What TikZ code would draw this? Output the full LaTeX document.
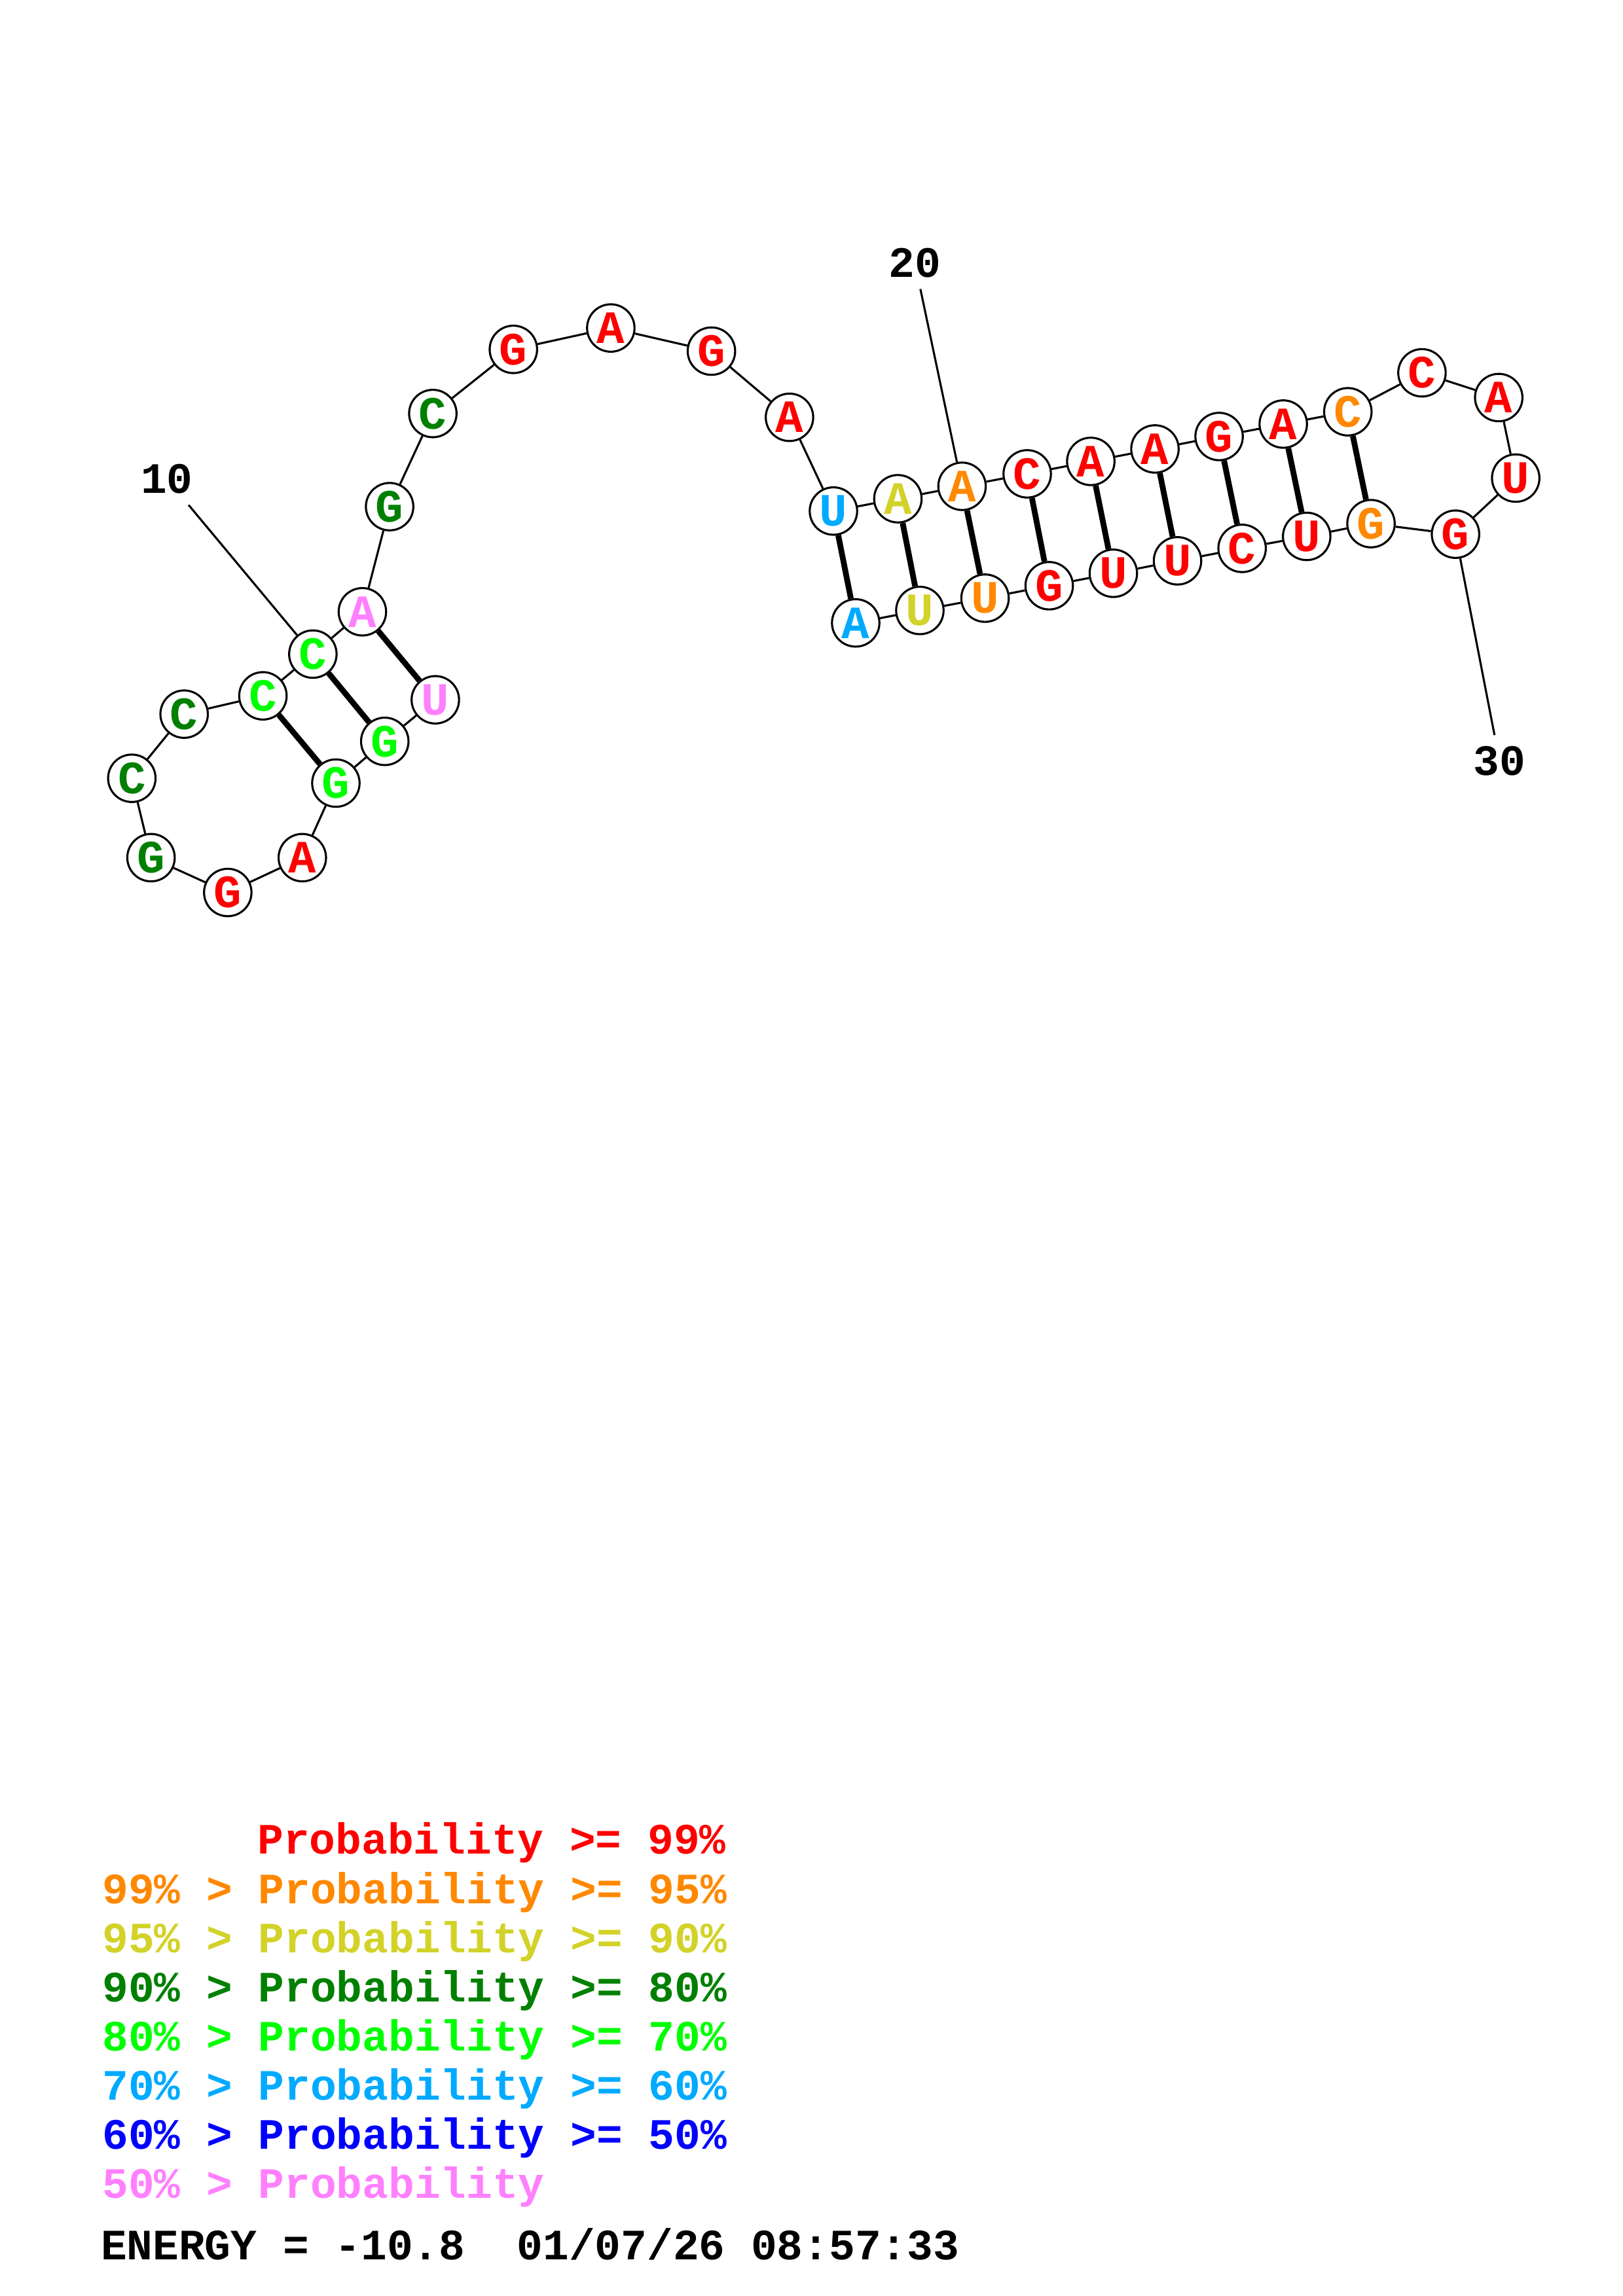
\documentclass[tikz,border=0pt]{standalone}
\usepackage{fontspec}
\setmonofont{Liberation Mono}
\definecolor{p99}{RGB}{255,0,0}
\definecolor{p95}{RGB}{255,136,0}
\definecolor{p90}{RGB}{210,210,40}
\definecolor{p80}{RGB}{0,128,0}
\definecolor{p70}{RGB}{0,255,0}
\definecolor{p60}{RGB}{0,170,255}
\definecolor{p50}{RGB}{0,0,255}
\definecolor{plow}{RGB}{255,128,255}
\newcommand{\rnafont}{\ttfamily\bfseries\fontsize{17}{17}\selectfont}
\newcommand{\keyfont}{\ttfamily\bfseries\fontsize{15.9}{15.9}\selectfont}
\begin{document}
\begin{tikzpicture}[x=0.53726pt,y=-0.53726pt,
    base/.style={circle,draw,fill=white,line width=0.75pt,minimum size=17.4pt,
      inner sep=0pt,font=\rnafont},
    numlabel/.style={inner sep=4pt,font=\keyfont},
    legend/.style={anchor=base west,inner sep=0pt,font=\keyfont}]
  \useasboundingbox (0,0) rectangle (1108,1568);
  \draw
    (297.2,477.9) node[base,text=plow] (1){U}
    (262.7,506.3) node[base,text=p70] (2){G}
    (229.3,534.8) node[base,text=p70] (3){G}
    (206.4,585.7) node[base,text=p99] (4){A}
    (155.5,609.5) node[base,text=p99] (5){G}
    (103.1,585.7) node[base,text=p80] (6){G}
    (90.0,531.5) node[base,text=p80] (7){C}
    (125.7,487.7) node[base,text=p80] (8){C}
    (179.5,475.2) node[base,text=p70] (9){C}
    (213.6,446.7) node[base,text=p70] (10){C}
    (247.4,417.8) node[base,text=plow] (11){A}
    (266.0,346.0) node[base,text=p80] (12){G}
    (295.5,282.4) node[base,text=p80] (13){C}
    (350.5,238.6) node[base,text=p99] (14){G}
    (417.0,224.0) node[base,text=p99] (15){A}
    (485.7,239.8) node[base,text=p99] (16){G}
    (539.0,285.0) node[base,text=p99] (17){A}
    (569.0,349.0) node[base,text=p60] (18){U}
    (613.0,340.6) node[base,text=p90] (19){A}
    (656.8,332.1) node[base,text=p95] (20){A}
    (701.3,323.6) node[base,text=p99] (21){C}
    (744.7,315.1) node[base,text=p99] (22){A}
    (788.5,306.6) node[base,text=p99] (23){A}
    (832.3,298.1) node[base,text=p99] (24){G}
    (876.1,289.6) node[base,text=p99] (25){A}
    (920.2,281.2) node[base,text=p95] (26){C}
    (970.8,254.6) node[base,text=p99] (27){C}
    (1023.2,271.5) node[base,text=p99] (28){A}
    (1034.8,326.5) node[base,text=p99] (29){U}
    (993.7,364.8) node[base,text=p99] (30){G}
    (936.0,357.6) node[base,text=p95] (31){G}
    (892.1,366.3) node[base,text=p99] (32){U}
    (848.0,374.5) node[base,text=p99] (33){C}
    (803.9,383.0) node[base,text=p99] (34){U}
    (760.1,391.5) node[base,text=p99] (35){U}
    (716.3,400.0) node[base,text=p99] (36){G}
    (672.5,408.5) node[base,text=p95] (37){U}
    (628.0,416.9) node[base,text=p90] (38){U}
    (584.2,425.4) node[base,text=p60] (39){A};
  \begin{scope}[line width=0.75pt]
    \draw (1) to (2);
    \draw (2) to (3);
    \draw (3) to (4);
    \draw (4) to (5);
    \draw (5) to (6);
    \draw (6) to (7);
    \draw (7) to (8);
    \draw (8) to (9);
    \draw (9) to (10);
    \draw (10) to (11);
    \draw (11) to (12);
    \draw (12) to (13);
    \draw (13) to (14);
    \draw (14) to (15);
    \draw (15) to (16);
    \draw (16) to (17);
    \draw (17) to (18);
    \draw (18) to (19);
    \draw (19) to (20);
    \draw (20) to (21);
    \draw (21) to (22);
    \draw (22) to (23);
    \draw (23) to (24);
    \draw (24) to (25);
    \draw (25) to (26);
    \draw (26) to (27);
    \draw (27) to (28);
    \draw (28) to (29);
    \draw (29) to (30);
    \draw (30) to (31);
    \draw (31) to (32);
    \draw (32) to (33);
    \draw (33) to (34);
    \draw (34) to (35);
    \draw (35) to (36);
    \draw (36) to (37);
    \draw (37) to (38);
    \draw (38) to (39);
  \end{scope}
  \begin{scope}[line width=2.1pt]
    \draw (1) to (11);
    \draw (2) to (10);
    \draw (3) to (9);
    \draw (18) to (39);
    \draw (19) to (38);
    \draw (20) to (37);
    \draw (21) to (36);
    \draw (22) to (35);
    \draw (23) to (34);
    \draw (24) to (33);
    \draw (25) to (32);
    \draw (26) to (31);
  \end{scope}
  % position labels
  \node[numlabel] (l10) at (113.9,327.0) {10};
  \node[numlabel] (l20) at (624.6,179.5) {20};
  \node[numlabel] (l30) at (1023.8,519.9) {30};
  \begin{scope}[line width=0.75pt]
    \draw (l10) to (10);
    \draw (l20) to (20);
    \draw (l30) to (30);
  \end{scope}
  % legend
  \node[legend,text=p99] (k1) at (175.5,1266.1) {Probability >= 99\%};
  \node[legend,text=p95] (k2) at (69.5,1299.9) {99\% > Probability >= 95\%};
  \node[legend,text=p90] (k3) at (69.5,1333.4) {95\% > Probability >= 90\%};
  \node[legend,text=p80] (k4) at (69.5,1367.1) {90\% > Probability >= 80\%};
  \node[legend,text=p70] (k5) at (69.5,1400.5) {80\% > Probability >= 70\%};
  \node[legend,text=p60] (k6) at (69.5,1434.0) {70\% > Probability >= 60\%};
  \node[legend,text=p50] (k7) at (69.5,1467.7) {60\% > Probability >= 50\%};
  \node[legend,text=plow] (k8) at (69.5,1501.1) {50\% > Probability};
  \node[legend] (energy) at (68.5,1543.2) {ENERGY = -10.8\ \ 01/07/26 08:57:33};
\end{tikzpicture}
\end{document}
